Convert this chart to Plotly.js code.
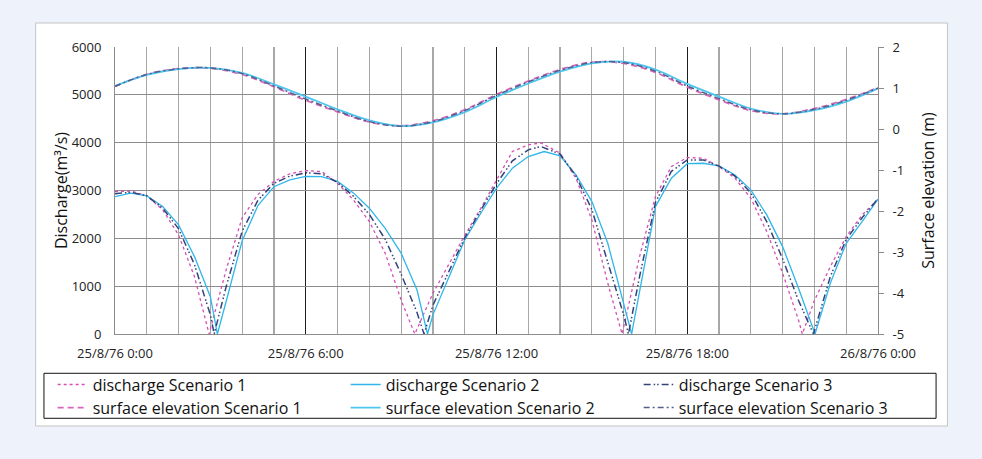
<!DOCTYPE html>
<html><head><meta charset="utf-8">
<script src="https://cdn.plot.ly/plotly-3.0.1.min.js"></script>
<style>html,body{margin:0;padding:0;background:#EEF2FA;}#chart{width:982px;height:459px;}</style>
</head><body><div id="chart"></div>
<script>
// ---- data (hours from 25/8/76 0:00) ----
const tickHours = [0, 6, 12, 18, 24];
const tickLabels = ["25/8/76 0:00", "25/8/76 6:00", "25/8/76 12:00", "25/8/76 18:00", "26/8/76 0:00"];
const elevTickValues = [-5, -4, -3, -2, -1, 0, 1, 2];
const elevTickLabels = ["-5", "-4", "-3", "-2", "-1", "0", "1", "2"];
const seriesNames = ["discharge Scenario 1", "discharge Scenario 2", "discharge Scenario 3",
  "surface elevation Scenario 1", "surface elevation Scenario 2", "surface elevation Scenario 3"];

const hoursD1 = [0,0.5,1,1.5,2,2.5,2.96,3.5,4,4.5,5,5.5,6,6.5,7,7.5,8,8.5,9,9.43,10,10.5,11,11.5,12,12.5,13,13.4,14,14.5,15,15.5,15.95,16.5,17,17.5,18,18.5,19,19.5,20,20.5,21,21.5,21.62,22,22.5,23,23.5,24];
const dischargeS1 = [2977,2990,2890,2594,2071,1199,0,1350,2430,2920,3190,3350,3416,3395,3152,2803,2350,1688,711,0,850,1450,2060,2620,3220,3815,3954,3995,3780,3257,2385,1060,0,1618,2873,3500,3690,3675,3500,3257,2839,2141,1270,293,0,700,1409,2036,2490,2818];

const hoursD2 = [0,0.5,1,1.5,2,2.5,3,3.22,3.5,4,4.5,5,5.5,6,6.5,7,7.5,8,8.5,9,9.5,9.83,10,10.5,11,11.5,12,12.5,13,13.5,14,14.5,15,15.5,16,16.25,16.5,17,17.5,18,18.5,19,19.5,20,20.5,21,21.5,22.02,22.5,23,23.5,24];
const dischargeS2 = [2873,2943,2887,2664,2280,1618,781,0,690,1950,2690,3080,3220,3295,3290,3190,2950,2630,2210,1690,920,0,400,1200,1967,2520,3050,3466,3710,3815,3724,3326,2768,1897,642,0,886,2664,3257,3560,3570,3515,3326,3013,2490,1827,956,0,1060,1897,2350,2818];

const hoursD3 = [0,0.5,1,1.5,2,2.5,3,3.12,3.5,4,4.5,5,5.5,6,6.5,7,7.5,8,8.5,9,9.5,9.72,10,10.5,11,11.5,12,12.5,13,13.4,14,14.5,15,15.5,16,16.15,16.5,17,17.5,18,18.5,19,19.5,20,20.5,21,21.5,21.97,22.5,23,23.5,24];
const dischargeS3 = [2930,2965,2890,2630,2200,1450,400,0,1000,2150,2800,3150,3300,3370,3350,3170,2880,2500,1980,1250,450,0,600,1320,2010,2580,3140,3620,3850,3920,3760,3300,2600,1500,400,0,1200,2750,3400,3640,3640,3510,3300,2950,2350,1570,700,0,1200,1980,2430,2830];

const hoursE = [0,1,2,3,4,5,6,7,8,9,10,11,12,13,14,15,16,17,18,19,20,21,22,23,24];
const elevationS1 = [1.04,1.33,1.47,1.48,1.33,1.03,0.70,0.42,0.17,0.08,0.20,0.47,0.84,1.17,1.45,1.63,1.60,1.38,1.02,0.71,0.45,0.37,0.50,0.72,1.01];
const elevationS2 = [1.05,1.32,1.46,1.49,1.37,1.09,0.79,0.48,0.21,0.07,0.16,0.41,0.78,1.11,1.40,1.60,1.64,1.45,1.10,0.79,0.50,0.37,0.46,0.67,0.99];
const elevationS3 = [1.04,1.33,1.47,1.49,1.35,1.05,0.73,0.44,0.18,0.07,0.18,0.45,0.82,1.15,1.43,1.62,1.62,1.41,1.05,0.74,0.47,0.37,0.48,0.70,1.00];

// ---- traces ----
const traces = [
  {x: hoursD1, y: dischargeS1, name: seriesNames[0], yaxis: 'y', legend: 'legend', mode: 'lines',
   line: {color: '#D64FB2', width: 1.3, dash: 'dot'}},
  {x: hoursD2, y: dischargeS2, name: seriesNames[1], yaxis: 'y', legend: 'legend', mode: 'lines',
   line: {color: '#2FB6EA', width: 1.3}},
  {x: hoursD3, y: dischargeS3, name: seriesNames[2], yaxis: 'y', legend: 'legend', mode: 'lines',
   line: {color: '#34437A', width: 1.5, dash: '7px,3px,1.5px,2px,1.5px,3px'}},
  {x: hoursE, y: elevationS1, name: seriesNames[3], yaxis: 'y2', legend: 'legend2', mode: 'lines',
   line: {color: '#D865B8', width: 1.8, dash: '6px,4px', shape: 'spline'}},
  {x: hoursE, y: elevationS2, name: seriesNames[4], yaxis: 'y2', legend: 'legend2', mode: 'lines',
   line: {color: '#4CC6F0', width: 1.8, shape: 'spline'}},
  {x: hoursE, y: elevationS3, name: seriesNames[5], yaxis: 'y2', legend: 'legend2', mode: 'lines',
   line: {color: '#53608E', width: 1.5, dash: '6px,3px,2px,3px', shape: 'spline'}}
];

const grey = '#8c8c8c';
const legendCommon = {
  orientation: 'h', xanchor: 'left', yanchor: 'top',
  bgcolor: 'rgba(0,0,0,0)', borderwidth: 0,
  font: {size: 16, color: '#111'}, entrywidth: 248, entrywidthmode: 'pixels',
  traceorder: 'normal'
};
const layout = {
  width: 982, height: 459,
  paper_bgcolor: '#EEF2FA', plot_bgcolor: 'rgba(0,0,0,0)',
  margin: {l: 115, r: 104, t: 47, b: 125},
  font: {family: 'Open Sans, sans-serif', color: '#222'},
  showlegend: true,
  xaxis: {
    range: [0, 24], tickmode: 'array', tickvals: tickHours, ticktext: tickLabels,
    showgrid: true, gridcolor: '#1e1e1e', gridwidth: 1,
    ticks: '', showline: true, linecolor: grey, zeroline: false,
    tickfont: {size: 13, color: '#222'}, ticklabelstandoff: 7,
    minor: {tickmode: 'linear', tick0: 0, dtick: 1, showgrid: true, gridcolor: '#a8a8a8', gridwidth: 1.2, ticks: ''}
  },
  yaxis: {
    range: [0, 6000], tick0: 0, dtick: 1000,
    showgrid: true, gridcolor: grey, gridwidth: 1,
    showline: true, linecolor: grey, ticks: '', zeroline: false,
    tickfont: {size: 13, color: '#222'}, ticklabelstandoff: 10,
    title: {text: 'Discharge(m³/s)', font: {size: 16, color: '#111'}, standoff: 0}
  },
  yaxis2: {
    range: [-5, 2], tickmode: 'array', tickvals: elevTickValues, ticktext: elevTickLabels,
    overlaying: 'y', side: 'right',
    showgrid: false, showline: true, linecolor: grey, zeroline: false,
    ticks: 'outside', ticklen: 5, tickcolor: grey,
    tickfont: {size: 13, color: '#222'}, ticklabelstandoff: 6,
    title: {text: 'Surface elevation (m)', font: {size: 16, color: '#111'}, standoff: 19}
  },
  legend: Object.assign({x: -0.0817, y: -0.117}, legendCommon),
  legend2: Object.assign({x: -0.0817, y: -0.1975}, legendCommon),
  shapes: [
    {type: 'rect', xref: 'paper', yref: 'paper', x0: -0.104, x1: 1.091, y0: -0.3206, y1: 1.0836,
     layer: 'below', fillcolor: '#ffffff', line: {color: '#c4c4c4', width: 1}},
    {type: 'rect', xref: 'paper', yref: 'paper', x0: -0.0931, x1: 1.0761, y0: -0.2937, y1: -0.1369,
     layer: 'below', fillcolor: '#ffffff', line: {color: '#111111', width: 1}}
  ]
};

Plotly.newPlot('chart', traces, layout, {displayModeBar: false, staticPlot: true});
</script>
</body></html>
